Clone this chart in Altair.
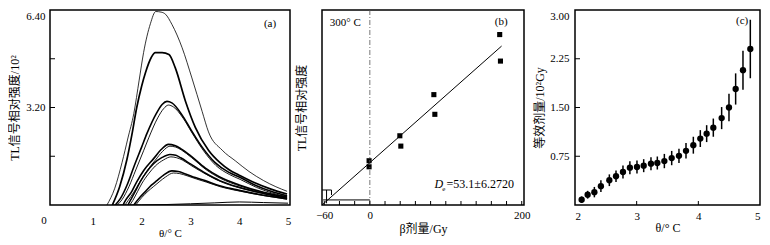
import altair as alt
import pandas as pd

SERIF = "Liberation Serif"
CJK = "'Liberation Serif', 'Noto Sans CJK SC'"

# ---------------- Panel (a): glow curves ----------------
a_curves = {
    "c1": ([1.29,1.45,1.60,1.72,1.84,1.95,2.04,2.18,2.29,2.40,2.49,2.62,2.83,3.03,3.24,3.37,3.65,3.92,4.20,4.50,4.75,4.98],
           [0.00,0.55,1.40,2.20,3.00,4.10,5.00,5.95,6.35,6.33,6.26,5.93,5.16,4.17,3.07,2.40,1.80,1.45,1.10,0.80,0.60,0.45], 0.8),
    "c2": ([1.40,1.55,1.70,1.80,1.90,2.00,2.08,2.20,2.28,2.42,2.56,2.69,2.90,3.10,3.37,3.60,3.80,4.00,4.33,4.65,4.98],
           [0.00,0.60,1.50,2.30,3.20,3.90,4.35,4.85,5.00,5.00,4.94,4.50,3.40,2.55,1.80,1.40,1.15,0.98,0.72,0.52,0.36], 1.7),
    "c3": ([1.46,1.56,1.70,1.84,2.00,2.11,2.30,2.42,2.52,2.62,2.83,3.00,3.24,3.50,3.78,4.00,4.33,4.65,4.98],
           [0.00,0.20,0.65,1.25,1.90,2.35,3.00,3.30,3.40,3.35,2.95,2.50,1.90,1.40,1.08,0.92,0.65,0.45,0.30], 1.6),
    "c4": ([1.50,1.60,1.74,1.88,2.04,2.15,2.33,2.45,2.55,2.65,2.85,3.02,3.26,3.52,3.80,4.02,4.35,4.66,4.98],
           [0.00,0.18,0.60,1.15,1.78,2.22,2.86,3.16,3.28,3.22,2.85,2.40,1.80,1.30,1.00,0.84,0.58,0.40,0.27], 0.9),
    "c5": ([1.62,1.67,1.80,1.90,2.05,2.25,2.40,2.55,2.68,2.80,3.00,3.30,3.60,4.00,4.50,4.98],
           [0.00,0.15,0.45,0.76,1.15,1.53,1.82,1.99,1.95,1.85,1.62,1.22,0.92,0.66,0.42,0.26], 1.6),
    "c6": ([1.66,1.72,1.84,1.95,2.10,2.28,2.43,2.58,2.70,2.82,3.02,3.32,3.62,4.02,4.52,4.98],
           [0.00,0.14,0.42,0.72,1.10,1.47,1.76,1.93,1.90,1.80,1.56,1.16,0.87,0.62,0.40,0.24], 0.9),
    "c7": ([1.72,1.77,1.88,1.97,2.10,2.25,2.42,2.58,2.70,2.80,3.00,3.30,3.60,4.00,4.50,4.98],
           [0.00,0.15,0.48,0.76,1.08,1.36,1.56,1.66,1.63,1.55,1.35,1.05,0.80,0.58,0.38,0.22], 1.5),
    "c8": ([1.76,1.82,1.92,2.01,2.14,2.28,2.45,2.60,2.72,2.83,3.03,3.33,3.63,4.03,4.53,4.98],
           [0.00,0.15,0.45,0.72,1.02,1.28,1.48,1.58,1.55,1.48,1.28,1.00,0.76,0.55,0.36,0.21], 0.9),
    "c9": ([1.84,1.97,2.10,2.20,2.32,2.45,2.62,2.75,2.90,3.10,3.30,3.60,4.00,4.50,4.98],
           [0.00,0.26,0.48,0.65,0.81,0.98,1.12,1.10,1.02,0.90,0.80,0.63,0.48,0.32,0.20], 1.6),
    "c10": ([1.88,2.00,2.13,2.24,2.36,2.49,2.65,2.78,2.93,3.13,3.33,3.63,4.03,4.53,4.98],
            [0.00,0.24,0.45,0.60,0.76,0.92,1.05,1.03,0.96,0.85,0.75,0.59,0.45,0.30,0.19], 0.9),
    "c11": ([1.40,2.00,2.50,3.00,3.50,4.00,4.50,5.00],
            [0.00,0.005,0.015,0.04,0.07,0.10,0.08,0.06], 1.0),
}
a_x_labels = [1, 2, 3, 4, 5]
a_x_zero_label = [0]
a_y_labels = [3.2, 6.4]
a_y_ticks = [1.6, 3.2, 4.8]

# ---------------- Panel (b): dose response ----------------
b_dose = [-1, -1, 39.5, 40.8, 84.3, 85.6, 171, 172]
b_signal = [22.7, 19.6, 35.5, 30.2, 56.6, 46.5, 87.4, 73.8]
b_fit_x = [-63, 173.5]
b_fit_y = [0, 81.5]
b_x_labels = [-60, 0, 200]
b_x_ticks = list(range(-60, 201, 20))
# intercept error bracket segments: x, x2, y, y2
b_bracket_x = [-63, -50.5, -57, -61.5]
b_bracket_x2 = [-50.5, -50.5, -57, 0]
b_bracket_y = [7.7, 7.7, 7.7, 2.6]
b_bracket_y2 = [7.7, 5.1, 0.9, 2.6]

# ---------------- Panel (c): plateau ----------------
c_temp = [2.108,2.205,2.314,2.42,2.557,2.665,2.778,2.89,3.005,3.114,3.232,3.335,3.449,
          3.568,3.686,3.8,3.919,4.032,4.135,4.243,4.378,4.497,4.605,4.724,4.843]
c_de = [0.081,0.158,0.198,0.29,0.381,0.442,0.508,0.574,0.585,0.605,0.636,0.646,0.676,
        0.722,0.757,0.834,0.92,1.022,1.098,1.19,1.337,1.5,1.785,2.074,2.4]
c_err = [0.05,0.06,0.08,0.09,0.09,0.09,0.10,0.10,0.10,0.10,0.10,0.10,0.11,
         0.11,0.11,0.12,0.13,0.13,0.13,0.14,0.17,0.21,0.24,0.30,0.45]
c_y_labels = [0.75, 1.5, 2.25, 3.0]
c_y_ticks = [0.75, 1.5, 2.25]
c_x_labels = [2, 3, 4, 5]
c_x_ticks = [3, 4]

H = 195
WA, WB, WC = 240, 202, 185

# ---------- build (a) ----------
rows = []
for name, (xs, ys, w) in a_curves.items():
    for i, (xx, yy) in enumerate(zip(xs, ys)):
        rows.append({"curve": name, "x": xx, "y": yy, "w": w, "i": i})
dfa = pd.DataFrame(rows)

axs = alt.Scale(domain=[0.123, 5.04], nice=False, zero=False)
ays = alt.Scale(domain=[0, 6.4], nice=False)
xa = alt.X("x:Q", scale=axs,
           axis=alt.Axis(values=a_x_labels, format="d", title="θ/° C",
                         labelPadding=10, titlePadding=1, titleFontSize=11))
ya = alt.Y("y:Q", scale=ays,
           axis=alt.Axis(values=a_y_labels, format=".2f", title="TL信号相对强度/10²",
                         labelPadding=5, titlePadding=4, labelFlush=True))

a_lines = alt.Chart(dfa).mark_line(color="black", clip=True, interpolate="monotone").encode(
    x=xa, y=ya, detail="curve:N", order="i:Q",
    strokeWidth=alt.StrokeWidth("w:Q", scale=None, legend=None))
a_ticks = alt.Chart(pd.DataFrame({"y": a_y_ticks})).mark_rule(color="black", strokeWidth=1).encode(
    y=alt.Y("y:Q", scale=ays), x=alt.value(0), x2=alt.value(5))
a_label = alt.Chart(pd.DataFrame({"x": [4.63], "y": [5.95], "t": ["(a)"]})).mark_text(
    font=SERIF, fontSize=11, color="black").encode(
    x=alt.X("x:Q", scale=axs), y=alt.Y("y:Q", scale=ays), text="t:N")
a_zero = alt.Chart(pd.DataFrame({"x": a_x_zero_label, "y": [0]})).mark_text(
    font=SERIF, fontSize=11, color="black", baseline="top", dy=10).encode(
    x=alt.X("x:Q", scale=axs), y=alt.Y("y:Q", scale=ays), text=alt.Text("x:Q", format="d"))
panel_a = alt.layer(a_lines, a_ticks, a_label, a_zero).properties(width=WA, height=H)

# ---------- build (b) ----------
bxs = alt.Scale(domain=[-63, 203], nice=False, zero=False)
bys = alt.Scale(domain=[0, 100], nice=False)
dfb = pd.DataFrame({"x": b_dose, "y": b_signal})
b_pts = alt.Chart(dfb).mark_square(color="black", size=26, opacity=1).encode(
    x=alt.X("x:Q", scale=bxs, axis=alt.Axis(values=b_x_labels, format="d", title="β剂量/Gy",
                                            labelPadding=4, titlePadding=3)),
    y=alt.Y("y:Q", scale=bys, axis=alt.Axis(labels=False, title="TL信号相对强度", titlePadding=14)))
b_fit = alt.Chart(pd.DataFrame({"x": b_fit_x, "y": b_fit_y})).mark_line(color="black", strokeWidth=1).encode(
    x=alt.X("x:Q", scale=bxs), y=alt.Y("y:Q", scale=bys))
b_zero = alt.Chart(pd.DataFrame({"x": [0]})).mark_rule(color="#555555", strokeWidth=0.8,
                                                       strokeDash=[5, 2, 1, 2]).encode(
    x=alt.X("x:Q", scale=bxs))
b_br = alt.Chart(pd.DataFrame({"x": b_bracket_x, "x2": b_bracket_x2,
                               "y": b_bracket_y, "y2": b_bracket_y2})).mark_rule(
    color="black", strokeWidth=1).encode(
    x=alt.X("x:Q", scale=bxs), x2="x2:Q", y=alt.Y("y:Q", scale=bys), y2="y2:Q")
b_tk = alt.Chart(pd.DataFrame({"x": b_x_ticks})).mark_rule(color="black", strokeWidth=1).encode(
    x=alt.X("x:Q", scale=bxs), y=alt.value(H), y2=alt.value(H - 4))
b_txt_b = alt.Chart(pd.DataFrame({"x": [173], "y": [93.9], "t": ["(b)"]})).mark_text(
    font=SERIF, fontSize=11, color="black").encode(
    x=alt.X("x:Q", scale=bxs), y=alt.Y("y:Q", scale=bys), text="t:N")
b_txt_300 = alt.Chart(pd.DataFrame({"x": [-52.7], "y": [93.4], "t": ["300° C"]})).mark_text(
    font=SERIF, fontSize=11, color="black", align="left").encode(
    x=alt.X("x:Q", scale=bxs), y=alt.Y("y:Q", scale=bys), text="t:N")
b_D = alt.Chart(pd.DataFrame({"x": [85.0], "y": [10.6], "t": ["D"]})).mark_text(
    font=SERIF, fontSize=12, fontStyle="italic", color="black", align="left").encode(
    x=alt.X("x:Q", scale=bxs), y=alt.Y("y:Q", scale=bys), text="t:N")
b_e = alt.Chart(pd.DataFrame({"x": [95.5], "y": [8.2], "t": ["e"]})).mark_text(
    font=SERIF, fontSize=7, color="black", align="left").encode(
    x=alt.X("x:Q", scale=bxs), y=alt.Y("y:Q", scale=bys), text="t:N")
b_val = alt.Chart(pd.DataFrame({"x": [101.0], "y": [10.6], "t": ["=53.1±6.2720"]})).mark_text(
    font=SERIF, fontSize=12, color="black", align="left").encode(
    x=alt.X("x:Q", scale=bxs), y=alt.Y("y:Q", scale=bys), text="t:N")
panel_b = alt.layer(b_pts, b_zero, b_fit, b_br, b_tk, b_txt_300, b_txt_b, b_D, b_e, b_val).properties(
    width=WB, height=H)

# ---------- build (c) ----------
cxs = alt.Scale(domain=[2, 5], nice=False, zero=False)
cys = alt.Scale(domain=[0, 3], nice=False)
dfc = pd.DataFrame({"x": c_temp, "y": c_de, "e": c_err})
dfc["lo"] = dfc["y"] - dfc["e"]
dfc["hi"] = dfc["y"] + dfc["e"]
c_err_l = alt.Chart(dfc).mark_rule(color="black", strokeWidth=1.5).encode(
    x=alt.X("x:Q", scale=cxs, axis=alt.Axis(values=c_x_labels, format="d", title="θ/° C",
                                            labelPadding=5, titlePadding=1)),
    y=alt.Y("lo:Q", scale=cys, axis=alt.Axis(values=c_y_labels, format=".2f",
                                             title="等效剂量/10²Gy", labelPadding=6, titlePadding=3,
                                             labelFlush=True)),
    y2="hi:Q")
c_pts = alt.Chart(dfc).mark_circle(color="black", size=40, opacity=1).encode(
    x=alt.X("x:Q", scale=cxs), y=alt.Y("y:Q", scale=cys))
c_ytk = alt.Chart(pd.DataFrame({"y": c_y_ticks})).mark_rule(color="black", strokeWidth=1).encode(
    y=alt.Y("y:Q", scale=cys), x=alt.value(0), x2=alt.value(5))
c_xtk = alt.Chart(pd.DataFrame({"x": c_x_ticks})).mark_rule(color="black", strokeWidth=1).encode(
    x=alt.X("x:Q", scale=cxs), y=alt.value(H), y2=alt.value(H - 4))
c_txt = alt.Chart(pd.DataFrame({"x": [4.71], "y": [2.83], "t": ["(c)"]})).mark_text(
    font=SERIF, fontSize=11, color="black").encode(
    x=alt.X("x:Q", scale=cxs), y=alt.Y("y:Q", scale=cys), text="t:N")
panel_c = alt.layer(c_err_l, c_pts, c_ytk, c_xtk, c_txt).properties(width=WC, height=H)

chart = alt.hconcat(panel_a, panel_b, panel_c, spacing=2, padding=0).configure(
    background="white"
).configure_view(
    stroke="black", strokeWidth=1.5
).configure_axis(
    grid=False, ticks=False, domain=False,
    labelFont=SERIF, labelFontSize=11, labelColor="black",
    titleFont=CJK, titleFontSize=12, titleFontWeight="normal", titleColor="black"
)

chart.save("out.html", embed_options={"renderer": "svg", "actions": False})
